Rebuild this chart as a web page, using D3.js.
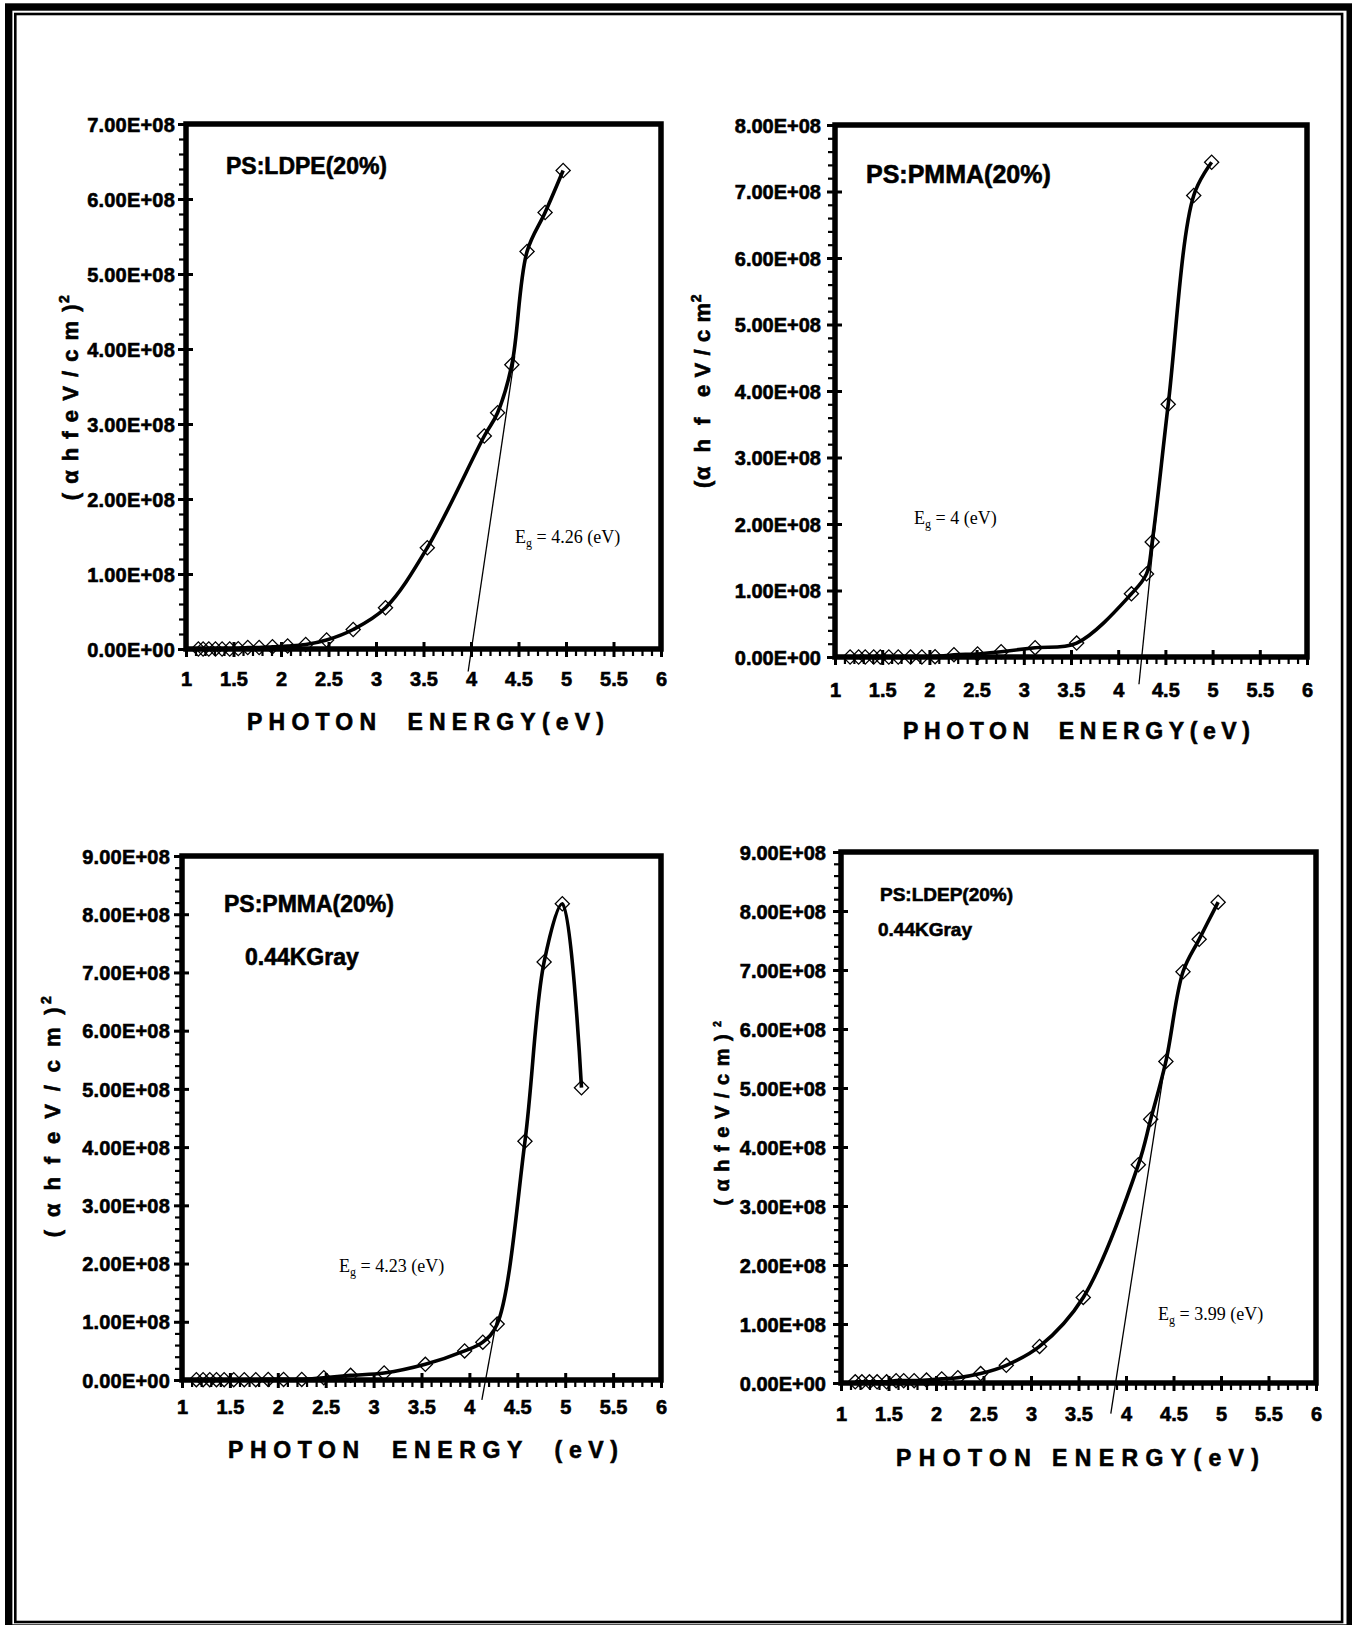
<!DOCTYPE html>
<html>
<head>
<meta charset="utf-8">
<title>Optical energy gap plots</title>
<script src="https://cdn.jsdelivr.net/npm/d3@7"></script>
<style>
  body { margin: 0; background: #fff; }
  svg { display: block; }
  text { font-family: "Liberation Sans", Arial, sans-serif; font-weight: bold; fill: #000; white-space: pre;
         stroke: #000; stroke-width: 0.6px; }
  text.eg { font-family: "Liberation Serif", "Times New Roman", serif; font-weight: normal; stroke: none; }
</style>
</head>
<body>
<svg id="chart" width="1352" height="1625"></svg>
<script>
// photon energy (eV) and (alpha h f)^2
const energyLdpe = [1.13, 1.18, 1.24, 1.31, 1.38, 1.46, 1.55, 1.65, 1.77, 1.91, 2.07, 2.26, 2.48, 2.76, 3.1, 3.54, 4.14, 4.28, 4.43, 4.59, 4.78, 4.97];
const alphaLdpe = [0, 0, 0, 0, 0, 0, 0.005e8, 0.02e8, 0.02e8, 0.03e8, 0.04e8, 0.06e8, 0.12e8, 0.26e8, 0.55e8, 1.35e8, 2.84e8, 3.15e8, 3.79e8, 5.3e8, 5.82e8, 6.38e8];

const energyPmma = [1.16, 1.25, 1.32, 1.41, 1.48, 1.57, 1.67, 1.8, 1.92, 2.06, 2.26, 2.51, 2.76, 3.12, 3.56, 4.14, 4.3, 4.36, 4.53, 4.8, 4.99];
const alphaPmma = [0, 0, 0, 0, 0, 0, 0, 0, 0, 0.005e8, 0.035e8, 0.045e8, 0.08e8, 0.14e8, 0.21e8, 0.95e8, 1.25e8, 1.73e8, 3.8e8, 6.94e8, 7.44e8];

const energyPmmaIrr = [1.15, 1.22, 1.29, 1.36, 1.44, 1.54, 1.65, 1.77, 1.9, 2.06, 2.25, 2.48, 2.76, 3.11, 3.54, 3.95, 4.14, 4.29, 4.58, 4.78, 4.97, 5.17];
const alphaPmmaIrr = [0.005e8, 0.005e8, 0.005e8, 0.005e8, 0.005e8, 0.005e8, 0.005e8, 0.005e8, 0.01e8, 0.01e8, 0.01e8, 0.04e8, 0.08e8, 0.12e8, 0.27e8, 0.5e8, 0.65e8, 0.96e8, 4.1e8, 7.18e8, 8.18e8, 5.02e8];

const energyLdpeIrr = [1.15, 1.22, 1.3, 1.38, 1.48, 1.58, 1.66, 1.77, 1.9, 2.06, 2.23, 2.47, 2.74, 3.09, 3.55, 4.13, 4.26, 4.42, 4.6, 4.77, 4.97];
const alphaLdpeIrr = [0.02e8, 0.02e8, 0.02e8, 0.02e8, 0.02e8, 0.04e8, 0.04e8, 0.04e8, 0.05e8, 0.07e8, 0.09e8, 0.16e8, 0.3e8, 0.62e8, 1.45e8, 3.7e8, 4.47e8, 5.45e8, 6.97e8, 7.52e8, 8.15e8];

// tangent lines, two end points each [eV, value]
const tangentLdpe = [[3.97, -0.3e8], [4.46, 3.9e8]];
const tangentPmma = [[4.22, -0.41e8], [4.4, 2.1e8]];
const tangentPmmaIrr = [[4.13, -0.34e8], [4.29, 1.08e8]];
const tangentLdpeIrr = [[3.84, -0.52e8], [4.41, 5.4e8]];

// tick labels
const xTicks = [1, 1.5, 2, 2.5, 3, 3.5, 4, 4.5, 5, 5.5, 6];
const yLabels7 = ["0.00E+00", "1.00E+08", "2.00E+08", "3.00E+08", "4.00E+08", "5.00E+08", "6.00E+08", "7.00E+08"];
const yLabels8 = ["0.00E+00", "1.00E+08", "2.00E+08", "3.00E+08", "4.00E+08", "5.00E+08", "6.00E+08", "7.00E+08", "8.00E+08"];
const yLabels9 = ["0.00E+00", "1.00E+08", "2.00E+08", "3.00E+08", "4.00E+08", "5.00E+08", "6.00E+08", "7.00E+08", "8.00E+08", "9.00E+08"];

const titles = ["PS:LDPE(20%)", "PS:PMMA(20%)", "PS:PMMA(20%)", "PS:LDEP(20%)"];
const doses = ["", "", "0.44KGray", "0.44KGray"];
const gaps = ["4.26", "4", "4.23", "3.99"];
const xTitles = ["PHOTON  ENERGY(eV)", "PHOTON  ENERGY(eV)", "PHOTON  ENERGY  (eV)", "PHOTON ENERGY(eV)"];
const yTitles = ["( α h f e V / c m )", "(α  h  f   e V / c m", "( α h f e V / c m )", "( α h f e V / c m ) "];
const ySups = ["2", "2", "2", "2"];

// layout of each panel (pixels)
const layout = [
    { L: 186, R: 661, T: 124, B: 649, tickFs: 20, tickLs: 0.2, xFs: 20, yGap: 11, xOff: 29.6,
      tX: 226, tY: 174, tFs: 23, dX: 0, dY: 0, dFs: 0, eX: 515, eY: 543,
      xtX: 247, xtY: 730, xtW: 357, ytX: 78, ytY: 397, ytFs: 22, ytLs: 1.5, supFs: 14 },
    { L: 835, R: 1307, T: 125, B: 657, tickFs: 20, tickLs: 0, xFs: 20, yGap: 14, xOff: 33,
      tX: 866, tY: 183, tFs: 25, dX: 0, dY: 0, dFs: 0, eX: 914, eY: 524,
      xtX: 903, xtY: 739, xtW: 347, ytX: 710, ytY: 391, ytFs: 22, ytLs: 0.6, supFs: 14 },
    { L: 182, R: 661, T: 856, B: 1380, tickFs: 20, tickLs: 0.2, xFs: 20, yGap: 12, xOff: 27,
      tX: 224, tY: 912, tFs: 23, dX: 245, dY: 965, dFs: 23, eX: 339, eY: 1272,
      xtX: 228, xtY: 1458, xtW: 390, ytX: 60, ytY: 1115, ytFs: 22, ytLs: 3.4, supFs: 14 },
    { L: 841, R: 1316, T: 852, B: 1383, tickFs: 20, tickLs: 0, xFs: 20, yGap: 15, xOff: 31,
      tX: 880, tY: 901, tFs: 19, dX: 878, dY: 936, dFs: 19, eX: 1158, eY: 1320,
      xtX: 896, xtY: 1466, xtW: 363, ytX: 729, ytY: 1113, ytFs: 20, ytLs: 1, supFs: 10 }
];

const series = [
    [energyLdpe, alphaLdpe, tangentLdpe, yLabels7],
    [energyPmma, alphaPmma, tangentPmma, yLabels8],
    [energyPmmaIrr, alphaPmmaIrr, tangentPmmaIrr, yLabels9],
    [energyLdpeIrr, alphaLdpeIrr, tangentLdpeIrr, yLabels9]
];

const svg = d3.select("#chart");

// double page border
svg.append("rect").attr("x", 8.7).attr("y", 7).attr("width", 1341.5).attr("height", 1621)
    .attr("fill", "none").attr("stroke", "#000").attr("stroke-width", 7.4);
svg.append("rect").attr("x", 15.3).attr("y", 14).attr("width", 1326.8).attr("height", 1608)
    .attr("fill", "none").attr("stroke", "#000").attr("stroke-width", 2.6);

series.forEach(([energy, alpha, tangent, yLabels], i) => {
    const p = layout[i];
    const g = svg.append("g");
    const yMax = (yLabels.length - 1) * 1e8;
    const yTicks = yLabels.map((d, k) => k * 1e8);

    const x = d3.scaleLinear().domain([1, 6]).range([p.L, p.R]);
    const y = d3.scaleLinear().domain([0, yMax]).range([p.B, p.T]);

    const xMinor = d3.range(1, 6.0001, 0.1).filter(v => Math.abs(v * 2 - Math.round(v * 2)) > 0.01);
    const yMinor = d3.range(0, yMax + 1, 0.2e8).filter(v => Math.abs(v / 1e8 - Math.round(v / 1e8)) > 0.01);

    // minor ticks (outside)
    g.append("g").attr("transform", `translate(0,${p.B})`)
        .call(d3.axisBottom(x).tickValues(xMinor).tickSize(7).tickFormat(""))
        .call(s => s.select(".domain").remove())
        .selectAll("line").attr("stroke-width", 2.2);
    g.append("g").attr("transform", `translate(${p.L},0)`)
        .call(d3.axisLeft(y).tickValues(yMinor).tickSize(7).tickFormat(""))
        .call(s => s.select(".domain").remove())
        .selectAll("line").attr("stroke-width", 2.2);

    // major ticks crossing the axis
    g.append("g").attr("transform", `translate(0,${p.B})`)
        .call(d3.axisBottom(x).tickValues(xTicks).tickSize(-7).tickFormat(""))
        .call(s => s.select(".domain").remove())
        .selectAll("line").attr("stroke-width", 3);
    g.append("g").attr("transform", `translate(${p.L},0)`)
        .call(d3.axisLeft(y).tickValues(yTicks).tickSize(-7).tickFormat(""))
        .call(s => s.select(".domain").remove())
        .selectAll("line").attr("stroke-width", 3);

    const xAxis = g.append("g").attr("transform", `translate(0,${p.B})`)
        .call(d3.axisBottom(x).tickValues(xTicks).tickSize(8).tickFormat(d3.format("")))
        .call(s => s.select(".domain").remove());
    xAxis.selectAll("line").attr("stroke-width", 3);
    xAxis.selectAll("text").attr("y", p.xOff).attr("dy", "0.36em")
        .style("font-size", p.xFs + "px");

    const yAxis = g.append("g").attr("transform", `translate(${p.L},0)`)
        .call(d3.axisLeft(y).tickValues(yTicks).tickSize(8).tickFormat((d, k) => yLabels[k]))
        .call(s => s.select(".domain").remove());
    yAxis.selectAll("line").attr("stroke-width", 3);
    yAxis.selectAll("text").attr("x", -p.yGap).attr("dy", "0.36em")
        .style("font-size", p.tickFs + "px").style("letter-spacing", p.tickLs + "px");

    svg.selectAll("g").attr("font-family", null).attr("font-size", null);

    // plot frame
    g.append("rect").attr("x", p.L).attr("y", p.T).attr("width", p.R - p.L).attr("height", p.B - p.T)
        .attr("fill", "none").attr("stroke", "#000").attr("stroke-width", 5.5);

    const pts = energy.map((e, k) => [e, alpha[k]]);

    // tangent line
    g.append("path").datum(tangent)
        .attr("d", d3.line().x(d => x(d[0])).y(d => y(d[1])))
        .attr("fill", "none").attr("stroke", "#000").attr("stroke-width", 1.3);

    // smoothed curve
    g.append("path").datum(pts)
        .attr("d", d3.line().x(d => x(d[0])).y(d => y(d[1])).curve(d3.curveCatmullRom.alpha(0.5)))
        .attr("fill", "none").attr("stroke", "#000").attr("stroke-width", 3.6)
        .attr("stroke-linejoin", "round");

    // diamond markers
    g.selectAll(".marker").data(pts).enter().append("path")
        .attr("class", "marker")
        .attr("d", d3.symbol(d3.symbolSquare, 100))
        .attr("transform", d => `translate(${x(d[0])},${y(d[1])}) rotate(45)`)
        .attr("fill", "none").attr("stroke", "#000").attr("stroke-width", 1.3);

    // labels inside the plot
    g.append("text").attr("x", p.tX).attr("y", p.tY).style("font-size", p.tFs + "px").text(titles[i]);
    if (doses[i]) {
        g.append("text").attr("x", p.dX).attr("y", p.dY).style("font-size", p.dFs + "px").text(doses[i]);
    }
    const eg = g.append("text").attr("class", "eg").attr("x", p.eX).attr("y", p.eY).style("font-size", "18px");
    eg.append("tspan").text("E");
    eg.append("tspan").attr("dy", 4).style("font-size", "12px").text("g");
    eg.append("tspan").attr("dy", -4).text(" = " + gaps[i] + " (eV)");

    // axis titles
    g.append("text").attr("x", p.xtX).attr("y", p.xtY).style("font-size", "23px")
        .attr("textLength", p.xtW).attr("lengthAdjust", "spacing").text(xTitles[i]);

    const yt = g.append("text")
        .attr("transform", `translate(${p.ytX},${p.ytY}) rotate(-90)`)
        .attr("text-anchor", "middle")
        .style("font-size", p.ytFs + "px").style("letter-spacing", p.ytLs + "px");
    yt.append("tspan").text(yTitles[i]);
    yt.append("tspan").attr("dy", -p.ytFs * 0.42).style("font-size", p.supFs + "px").text(ySups[i]);
});
</script>
</body>
</html>
